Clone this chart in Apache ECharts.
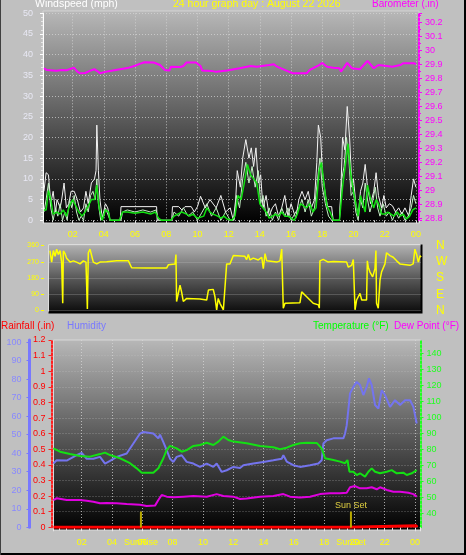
<!DOCTYPE html>
<html><head><meta charset="utf-8">
<script src="https://cdn.jsdelivr.net/npm/echarts@6/dist/echarts.min.js"></script>
<style>html,body{margin:0;padding:0;background:#c0c0c0;overflow:hidden}#c{width:466px;height:555px}</style>
</head><body><div id="c"></div>
<script>
const FONT = '"Liberation Sans", Arial, sans-serif';

// ---- data (hour of day, value) ----
const barometer = [[0.16,29.874],[0.33,29.862],[0.97,29.856],[1.3,29.862],[1.61,29.86],[2.08,29.878],[2.3,29.85],[2.47,29.838],[2.8,29.84],[3.1,29.855],[3.39,29.867],[3.6,29.852],[3.75,29.838],[4.1,29.848],[4.39,29.854],[5.03,29.867],[5.6,29.878],[6.0,29.892],[6.3,29.905],[6.6,29.917],[7.2,29.915],[7.6,29.897],[7.9,29.862],[8.2,29.857],[8.3,29.885],[8.9,29.883],[9.1,29.89],[9.3,29.915],[9.9,29.915],[10.2,29.89],[10.3,29.857],[10.9,29.855],[11.2,29.848],[11.9,29.857],[12.7,29.874],[13.4,29.89],[13.8,29.885],[14.6,29.897],[14.9,29.902],[15.1,29.885],[15.7,29.857],[16.1,29.838],[17.0,29.838],[17.2,29.862],[17.8,29.897],[18.0,29.912],[18.3,29.885],[18.7,29.878],[19.1,29.874],[19.2,29.85],[19.6,29.912],[19.7,29.926],[19.9,29.874],[20.4,29.867],[20.9,29.926],[21.3,29.874],[21.6,29.897],[22.0,29.892],[22.1,29.878],[22.5,29.885],[23.0,29.897],[23.2,29.91],[23.9,29.91],[24.0,29.902]];

const windGust = [[0.16,7],[0.3,11.5],[0.45,11],[0.6,4],[0.75,7],[0.9,2],[1.0,5],[1.2,3],[1.3,5],[1.45,9],[1.6,3],[1.75,4],[1.9,7],[2.1,7],[2.3,5],[2.5,2],[2.7,3],[2.85,7],[3.0,4],[3.2,9],[3.4,10],[3.5,12],[3.55,23],[3.65,12],[3.75,5],[3.9,0.5],[4.1,4],[4.25,3],[4.4,0],[5.05,0],[5.1,3.3],[7.38,3.3],[7.42,0],[8.35,0],[8.4,3.3],[8.8,3.3],[9.0,2.5],[9.2,3.3],[9.6,3.3],[9.8,2],[10.0,3.3],[10.2,5.8],[10.5,3],[10.8,5],[11.2,3],[11.5,6],[11.8,2],[12.1,3],[12.3,0],[12.45,5],[12.55,12],[12.75,8],[12.9,15],[13.1,19.5],[13.3,15],[13.45,17.5],[13.6,13],[13.75,17.5],[13.9,9],[14.05,11],[14.2,3],[14.4,6],[14.6,1],[14.8,3],[15.0,4],[15.2,1],[15.4,3],[15.6,6],[15.8,1],[16.0,4],[16.3,0.5],[16.5,5],[16.7,7],[16.9,5],[17.1,7],[17.3,3],[17.5,5],[17.65,14],[17.75,23],[17.9,20],[18.0,12],[18.2,6],[18.35,3.3],[18.6,3.3],[18.7,0],[19.1,0],[19.2,8],[19.3,20],[19.45,17],[19.6,27.5],[19.75,20],[19.9,8],[20.0,10],[20.15,4],[20.3,1],[20.45,7],[20.6,9],[20.75,13.5],[20.9,8],[21.1,4],[21.3,7],[21.45,11.5],[21.6,6],[21.8,3],[21.95,6],[22.1,3],[22.3,4],[22.5,3.5],[22.7,2],[22.9,3],[23.1,1.5],[23.3,3],[23.55,1],[23.7,6],[23.85,10],[24.0,8]];

const windSpeed = [[0.16,2],[0.3,5],[0.45,9],[0.6,3],[0.75,0],[0.9,3],[1.05,1],[1.2,4],[1.35,0],[1.5,2],[1.65,0],[1.8,5],[1.95,3],[2.1,6],[2.25,2],[2.4,0],[2.55,1],[2.7,0],[2.85,4],[3.0,2],[3.15,6],[3.3,7],[3.45,5],[3.55,10],[3.65,4],[3.8,0],[4.0,1],[4.1,3],[4.3,1],[4.4,0],[5.1,0],[5.2,2],[5.5,2.5],[6.0,2],[6.5,2.5],[7.0,2],[7.35,2.5],[7.5,0],[8.35,0],[8.5,2],[8.8,1],[9.1,3],[9.4,1],[9.7,2],[10.0,0],[10.3,2],[10.6,4],[10.9,1],[11.2,3],[11.5,0],[11.8,2],[12.1,0],[12.35,0],[12.5,6],[12.7,3],[12.9,10],[13.1,14],[13.3,9],[13.5,13],[13.7,8],[13.9,12],[14.05,4],[14.2,6],[14.4,1],[14.6,3],[14.8,0],[15.0,2],[15.2,0],[15.4,3],[15.6,1],[15.8,3],[16.0,0],[16.3,2],[16.5,3],[16.7,5],[16.9,2],[17.1,5],[17.3,1],[17.5,3],[17.7,10],[17.85,15],[18.0,8],[18.2,4],[18.4,1],[18.6,0],[19.1,0],[19.25,10],[19.4,13],[19.55,20],[19.7,15],[19.85,6],[20.0,7],[20.15,2],[20.3,0],[20.45,5],[20.6,3],[20.75,9],[20.9,5],[21.05,2],[21.2,4],[21.4,8],[21.55,3],[21.7,1],[21.9,4],[22.1,1],[22.3,2],[22.5,0],[22.7,2],[22.9,0.5],[23.1,2],[23.3,0],[23.5,1],[23.7,3],[23.85,6],[24.0,4]];

const windAvg = [[0.16,2.5],[0.3,2.5],[0.45,7.2],[0.6,5],[0.75,1.5],[1.0,2],[1.2,1.5],[1.4,2.5],[1.6,1],[1.8,3.5],[2.0,5],[2.2,3.5],[2.4,2],[2.6,1],[2.8,2],[3.0,3.5],[3.2,5],[3.4,5],[3.55,8.5],[3.7,3],[3.9,0],[4.1,2.5],[4.3,2],[4.4,0],[5.0,0],[5.2,2],[5.5,2],[6.0,1.7],[6.5,2],[7.0,1.5],[7.3,2],[7.5,0.5],[7.7,0],[8.3,0],[8.5,1],[9.0,2],[9.3,1.5],[9.5,1],[9.7,1.5],[10.0,0.5],[10.4,1],[10.6,3],[10.8,2],[11.0,1.5],[11.3,1],[11.5,0.5],[11.7,1],[11.9,0.3],[12.2,0],[12.4,1],[12.6,6],[12.8,5],[13.0,9],[13.2,13.5],[13.4,11],[13.6,10],[13.8,9],[14.0,4],[14.2,3],[14.4,2],[14.6,0.5],[14.8,1],[15.0,1.5],[15.2,1],[15.4,2],[15.6,1],[15.8,1],[16.0,0.5],[16.2,0],[16.4,1.5],[16.6,4],[16.8,3.5],[17.0,3],[17.2,4],[17.4,2],[17.6,3],[17.8,12],[17.95,14],[18.1,9],[18.3,3.5],[18.5,2],[18.7,0],[19.1,0],[19.3,8],[19.5,14],[19.65,18.5],[19.8,12],[20.0,7],[20.15,4],[20.3,1],[20.45,6],[20.6,4],[20.75,2],[20.9,8.5],[21.1,5],[21.3,3],[21.45,5],[21.6,4],[21.8,1.5],[22.0,1.5],[22.2,2],[22.4,1.5],[22.6,1],[22.8,2],[23.0,1],[23.2,1.5],[23.4,0.3],[23.6,1],[23.8,2.5],[24.0,3]];

const windDir = [[0.54,332],[0.65,268],[0.76,332],[0.87,300],[0.97,340],[1.08,310],[1.19,332],[1.29,268],[1.36,40],[1.4,330],[1.51,315],[1.61,290],[1.83,268],[2.04,275],[2.25,268],[2.47,258],[2.68,275],[2.85,268],[2.94,8],[3.0,320],[3.11,340],[3.22,350],[3.32,268],[3.54,258],[3.75,268],[4.18,270],[4.82,275],[5.57,275],[5.78,237],[6.74,235],[8.02,235],[8.13,253],[8.56,258],[8.62,310],[8.66,50],[8.77,58],[8.88,140],[8.98,103],[9.09,50],[9.31,67],[9.41,64],[10.16,64],[10.59,58],[10.7,113],[10.8,104],[11.01,117],[11.12,76],[11.23,4],[11.33,67],[11.44,40],[11.55,22],[11.66,4],[11.76,8],[11.87,258],[11.98,250],[12.08,258],[12.3,305],[13.04,300],[13.15,282],[13.26,310],[13.37,280],[13.58,290],[13.9,280],[14.12,295],[14.22,232],[14.33,315],[14.44,275],[15.08,268],[15.29,275],[15.4,340],[15.46,350],[15.5,13],[15.61,40],[16.57,43],[16.68,103],[16.79,95],[17.0,76],[17.21,58],[17.42,40],[17.75,31],[17.81,13],[17.85,275],[18.06,283],[18.38,268],[18.71,272],[19.56,268],[19.67,240],[19.88,250],[19.99,283],[20.1,4],[20.2,58],[20.42,95],[20.53,58],[20.84,58],[20.89,275],[20.95,240],[21.06,213],[21.23,186],[21.38,232],[21.44,332],[21.48,40],[21.59,13],[21.7,168],[21.8,213],[22.02,258],[22.12,320],[22.34,304],[22.55,295],[22.77,275],[22.98,258],[23.62,250],[23.83,258],[23.94,340],[24.05,310],[24.16,268],[24.27,304],[24.33,295]];

const humidity = [[0.13,34.4],[0.35,36.2],[1.01,36],[1.67,38.9],[2.0,40.2],[2.33,37],[2.77,37],[3.21,38],[3.54,34.4],[3.87,35.8],[4.31,38],[4.97,39.8],[5.41,45.2],[5.85,50.6],[6.07,51.5],[6.73,50.6],[7.06,48],[7.17,50],[7.39,46],[7.61,41.6],[7.83,37],[8.05,35.3],[8.27,38],[8.6,38.9],[8.93,35.3],[9.37,34.4],[9.81,32.6],[10.25,34.4],[10.69,32.6],[10.91,34.4],[11.24,29.9],[11.57,30.8],[12.01,32.6],[12.45,32],[12.67,33.5],[13.33,34.4],[13.99,35.3],[14.65,36.2],[15.2,37],[15.31,38.9],[15.53,35.5],[15.97,33.5],[16.41,32.6],[17.07,33.5],[17.62,34.4],[17.84,36.2],[17.95,45.2],[18.17,47],[18.61,48],[19.27,48],[19.38,50.6],[19.49,55],[19.6,56],[19.71,72.3],[19.93,75.8],[20.15,78.5],[20.37,76.8],[20.59,71.4],[20.81,75.8],[20.96,80.4],[21.14,76.8],[21.36,66],[21.58,64.1],[21.8,74],[22.02,71.4],[22.35,65],[22.68,68.6],[23.01,66],[23.34,68.6],[23.67,68.6],[23.89,65],[24.11,56]];

const temperature = [[0.13,80.6],[0.57,78.5],[1.23,77],[1.89,75.8],[2.55,75.4],[3.21,77],[3.54,77.9],[3.87,76.4],[4.53,74.4],[5.19,71.3],[5.63,68.1],[5.96,65.4],[6.73,65.4],[7.06,68.1],[7.39,74.4],[7.61,79.6],[7.83,82.1],[8.27,80.6],[8.6,78.5],[8.93,79.5],[9.37,82.1],[9.81,82.7],[10.25,84.1],[10.69,82.7],[11.02,84.8],[11.35,87.9],[11.68,85.8],[12.01,84.8],[12.89,83.75],[13.77,82.1],[14.65,81.25],[15.09,80],[15.53,81],[15.97,82.7],[16.41,83.75],[16.85,84.1],[17.51,84],[17.84,80.6],[18.06,74.4],[18.61,73.3],[19.05,72.3],[19.38,71.3],[19.54,73.3],[19.67,66],[19.93,66],[20.15,63.9],[20.37,65],[20.48,66],[20.7,62.9],[20.92,66],[21.14,68.1],[21.36,66],[21.69,65],[22.13,66],[22.46,67],[22.79,65],[23.23,65.4],[23.45,63.9],[23.78,65],[24.11,67]];

const dewPoint = [[0.13,48.3],[0.35,49.4],[1.01,48.3],[1.89,48.3],[2.33,47.9],[2.77,47.25],[3.21,46.25],[3.65,46.5],[4.31,46.25],[4.97,45.8],[5.85,45.4],[6.29,44.6],[6.84,44.8],[7.06,48.3],[7.28,51.4],[7.61,50.4],[8.05,50],[8.71,50.4],[9.37,50.8],[10.25,50.4],[10.91,52],[11.35,50.8],[12.01,50.4],[12.45,48.9],[12.89,49.2],[13.77,50.4],[14.65,50.8],[15.31,52],[15.75,50.4],[16.41,49.8],[17.07,50.4],[17.73,52],[18.39,52.5],[19.05,52.5],[19.49,52.8],[19.71,56.25],[20.04,57],[20.37,55.6],[20.81,55.6],[21.14,56.25],[21.47,55],[21.69,56.25],[22.13,54.6],[22.57,53.5],[23.01,53.5],[23.56,52.8],[23.89,52],[24.11,50.4]];

const rainfall = [[0.14,0],[19.6,0],[19.62,0.01],[24.08,0.01],[24.12,0]];

const sunRiseHour = 5.91;
const sunSetHour = 19.77;
const sunMarkTop = 0.1;
const sunRiseLabel = 'SunRise';
const sunSetLabelBottom = 'SunSet';
const sunSetLabelTop = 'Sun Set';

const compassLabels = {0:'N', 90:'E', 180:'S', 270:'W', 360:'N'};

const titleText = '24 hour graph day : August 22 2026';
const windTitle = 'Windspeed (mph)';
const baroTitle = 'Barometer (.in)';
const rainTitle = 'Rainfall (.in)';
const humTitle = 'Humidity';
const tempTitle = 'Temperature (°F)';
const dewTitle = 'Dew Point (°F)';

// ---- chart ----
const hourFmt = v => {
  if (Math.abs(v - Math.round(v)) > 1e-6) return '';
  const h = Math.round(v) % 24;
  return (h < 10 ? '0' : '') + h;
};
const grad = (stops) => new echarts.graphic.LinearGradient(0, 0, 0, 1, stops.map((c, i) => ({offset: i / (stops.length - 1), color: c})));
const dotted = (c) => ({show: true, lineStyle: {color: c, type: [1, 2], width: 1}});

const chart = echarts.init(document.getElementById('c'), null, {renderer: 'canvas'});

const lineS = (name, data, xi, yi, color, width, extra) => Object.assign({
  name, type: 'line', data, xAxisIndex: xi, yAxisIndex: yi, showSymbol: false, symbol: 'none',
  lineStyle: {color, width}, itemStyle: {color}, silent: true, z: 3
}, extra || {});

chart.setOption({
  animation: false,
  backgroundColor: '#c0c0c0',
  textStyle: {fontFamily: FONT},
  graphic: {elements: [
    // panel backgrounds
    {type: 'rect', z: -10, shape: {x: 43, y: 11, width: 376, height: 212}, style: {fill: grad(['#b8b8b8', '#5c5c5c', '#000000']), stroke: '#d4d4d4', lineWidth: 1}},
    {type: 'rect', z: -10, shape: {x: 48, y: 244, width: 374, height: 69}, style: {fill: grad(['#b4b4b4', '#585858', '#0a0a0a']), stroke: null}},
    {type: 'polyline', z: -9, shape: {points: [[48.5, 313], [48.5, 244.5], [421.5, 244.5]]}, style: {stroke: '#dcdcdc', lineWidth: 1, fill: null}},
    {type: 'polyline', z: -9, shape: {points: [[48.5, 312.5], [421.5, 312.5], [421.5, 244.5]]}, style: {stroke: '#000000', lineWidth: 2, fill: null}},
    {type: 'rect', z: -10, shape: {x: 53.5, y: 340, width: 367, height: 190}, style: {fill: grad(['#b8b8b8', '#5a5a5a', '#000000']), stroke: '#d8d8d8', lineWidth: 1}},
    // outer frame
    {type: 'rect', z: 50, shape: {x: 0, y: 553, width: 466, height: 2}, style: {fill: '#000'}},
    {type: 'rect', z: 50, shape: {x: 464, y: 0, width: 2, height: 555}, style: {fill: '#000'}},
    {type: 'rect', z: 50, shape: {x: 0, y: 0, width: 1, height: 555}, style: {fill: '#404040'}},
    // titles
    {type: 'text', z: 20, left: 35, top: -1, style: {text: windTitle, fill: '#ffffff', font: '10.5px ' + FONT}},
    {type: 'text', z: 20, left: 173, top: -1, style: {text: titleText, fill: '#ffff00', font: '10.5px ' + FONT}},
    {type: 'text', z: 20, left: 372, top: -1, style: {text: baroTitle, fill: '#ff00ff', font: '10px ' + FONT}},
    {type: 'text', z: 20, left: 1, top: 321, style: {text: rainTitle, fill: '#ff0000', font: '10px ' + FONT}},
    {type: 'text', z: 20, left: 67, top: 321, style: {text: humTitle, fill: '#7878ff', font: '10px ' + FONT}},
    {type: 'text', z: 20, left: 313, top: 321, style: {text: tempTitle, fill: '#00ff00', font: '10px ' + FONT}},
    {type: 'text', z: 20, left: 394, top: 321, style: {text: dewTitle, fill: '#ff00ff', font: '10px ' + FONT}}
  ]},
  grid: [
    {left: 43, top: 13.3, width: 376, height: 207},
    {left: 49, top: 245.5, width: 372, height: 65},
    {left: 53.5, top: 340, width: 367, height: 187.3}
  ],
  xAxis: [
    {gridIndex: 0, type: 'value', min: 0.1, max: 24.2, splitNumber: 12,
      axisLine: {show: false}, axisTick: {show: true, length: 3, lineStyle: {color: '#e0e0e0'}},
      minorTick: {show: true, splitNumber: 3, length: 2, lineStyle: {color: '#e0e0e0'}},
      axisLabel: {color: '#ffff00', fontSize: 9, margin: 10, formatter: hourFmt, showMinLabel: false, showMaxLabel: false},
      splitLine: dotted('rgba(215,215,215,0.75)')},
    {gridIndex: 1, type: 'value', min: 0.48, max: 24.33, show: false},
    {gridIndex: 2, type: 'value', min: 0.14, max: 24.36, splitNumber: 12,
      axisLine: {show: false}, axisTick: {show: true, length: 4, lineStyle: {color: '#e8e8e8'}},
      minorTick: {show: true, splitNumber: 4, length: 3, lineStyle: {color: '#e8e8e8'}},
      axisLabel: {color: '#ffff00', fontSize: 9, margin: 11, formatter: hourFmt, showMinLabel: false, showMaxLabel: false},
      splitLine: dotted('rgba(215,215,215,0.75)')}
  ],
  yAxis: [
    {gridIndex: 0, type: 'value', min: 0, max: 50, interval: 5, position: 'left',
      axisLine: {show: true, lineStyle: {color: '#ffffff', width: 1}},
      axisTick: {show: true, length: 3, lineStyle: {color: '#ffffff'}},
      minorTick: {show: true, splitNumber: 5, length: 2, lineStyle: {color: '#e8e8e8'}},
      axisLabel: {color: '#e8e8f4', fontSize: 9, margin: 10},
      splitLine: dotted('rgba(215,215,215,0.7)')},
    {gridIndex: 0, type: 'value', min: 28.786, max: 30.267, splitNumber: 15, position: 'right',
      axisLine: {show: true, lineStyle: {color: '#ff00ff', width: 2, type: [2, 2]}},
      axisTick: {show: true, length: 3, lineStyle: {color: '#ff00ff'}},
      minorTick: {show: true, splitNumber: 2, length: 2, lineStyle: {color: '#ff00ff'}},
      axisLabel: {color: '#ff00ff', fontSize: 9, margin: 6, showMinLabel: false, showMaxLabel: false},
      splitLine: {show: false}},
    {gridIndex: 1, type: 'value', min: 0, max: 360, interval: 90, position: 'left', offset: 5,
      axisLine: {show: false},
      axisTick: {show: true, length: 3, lineStyle: {color: '#ffff00'}},
      axisLabel: {color: '#ffff00', fontSize: 7, margin: 5},
      splitLine: {show: true, lineStyle: {color: 'rgba(200,200,200,0.25)', width: 1}}},
    {gridIndex: 2, type: 'value', min: 0, max: 1.2, interval: 0.1, position: 'left', offset: 2,
      axisLine: {show: true, lineStyle: {color: '#ff2020', width: 2, type: [2, 2]}},
      axisTick: {show: true, length: 3, lineStyle: {color: '#ff2020'}},
      axisLabel: {color: '#ff0000', fontSize: 9, margin: 6, formatter: v => String(+v.toFixed(1))},
      splitLine: dotted('rgba(200,200,200,0.45)')},
    {gridIndex: 2, type: 'value', min: 0, max: 101.1, interval: 10, position: 'left', offset: 24,
      axisLine: {show: true, lineStyle: {color: '#7878ff', width: 3}},
      axisTick: {show: true, length: 3, lineStyle: {color: '#7878ff'}},
      axisLabel: {color: '#8888ff', fontSize: 9, margin: 8, showMaxLabel: false},
      splitLine: {show: false}},
    {gridIndex: 2, type: 'value', min: 31.25, max: 148.3, splitNumber: 12, position: 'right',
      axisLine: {show: true, lineStyle: {color: '#20ff20', width: 2, type: [2, 2]}},
      axisTick: {show: true, length: 3, lineStyle: {color: '#20ff20'}},
      axisLabel: {color: '#20ff20', fontSize: 9, margin: 6, showMinLabel: false, showMaxLabel: false},
      splitLine: {show: false}},
    {gridIndex: 1, type: 'value', min: 0, max: 360, interval: 90, position: 'right',
      axisLine: {show: false}, axisTick: {show: false},
      axisLabel: {color: '#ffff00', fontSize: 12, margin: 15, formatter: v => compassLabels[v] || ''},
      splitLine: {show: false}}
  ],
  series: [
    lineS('Barometer', barometer, 0, 1, '#ff00ff', 2),
    lineS('Gust', windGust, 0, 0, '#f2f2f2', 1),
    lineS('Wind', windSpeed, 0, 0, '#c4f0c4', 1),
    lineS('Average', windAvg, 0, 0, '#10e010', 1.5),
    lineS('Direction', windDir, 1, 2, '#ffff00', 1.5),
    lineS('Humidity', humidity, 2, 4, '#7474ee', 2),
    lineS('Temperature', temperature, 2, 5, '#14e014', 2),
    lineS('Dew Point', dewPoint, 2, 5, '#e000e0', 2),
    lineS('Rainfall', rainfall, 2, 3, '#ff0000', 3, {z: 4}),
    lineS('SunRise', [
      {value: [sunRiseHour, 0], label: {show: true, position: 'bottom', distance: 10, formatter: sunRiseLabel, color: '#ffff00', fontSize: 9}},
      {value: [sunRiseHour, sunMarkTop]}
    ], 2, 3, '#b8a800', 2, {symbol: 'circle', showSymbol: true, symbolSize: 1, z: 5}),
    lineS('SunSet', [
      {value: [sunSetHour, 0], label: {show: true, position: 'bottom', distance: 10, formatter: sunSetLabelBottom, color: '#ffff00', fontSize: 9}},
      {value: [sunSetHour, sunMarkTop], label: {show: true, position: 'top', distance: 1, formatter: sunSetLabelTop, color: '#e0d040', fontSize: 9}}
    ], 2, 3, '#b8a800', 2, {symbol: 'circle', showSymbol: true, symbolSize: 1, z: 5})
  ]
});
</script>
</body></html>
